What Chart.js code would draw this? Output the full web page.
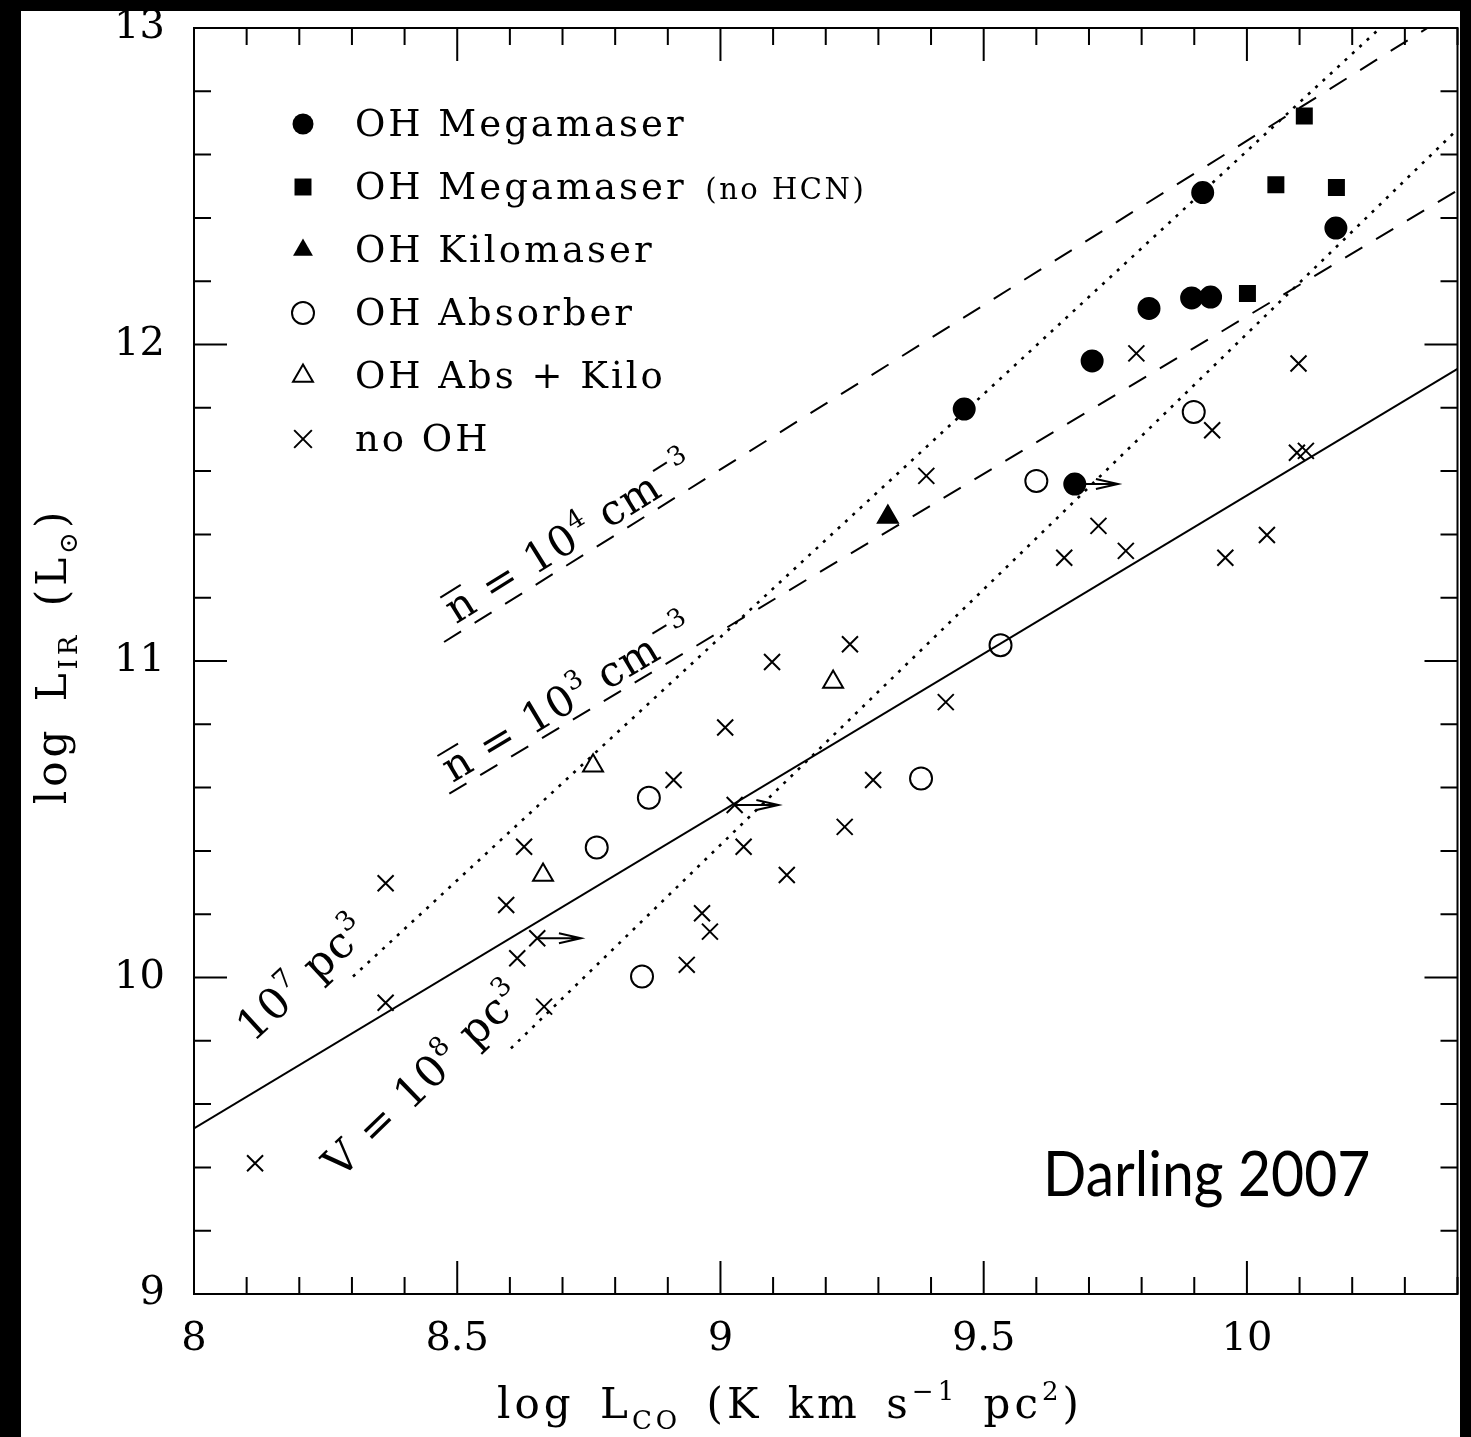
<!DOCTYPE html>
<html>
<head>
<meta charset="utf-8">
<script src="https://cdn.jsdelivr.net/npm/chart.js@4.4.0/dist/chart.umd.min.js"></script>
<style>
  html, body { margin: 0; padding: 0; background: #000; overflow: hidden; }
  #wrap { position: absolute; left: 0; top: 0; width: 1471px; height: 1437px; }
</style>
</head>
<body>
<div id="wrap"><canvas id="co" width="1471" height="1437"></canvas></div>
<script>
// Data (log L_CO, log L_IR)
const megaX = [9.463, 9.673, 9.706, 9.814, 9.895, 9.931, 9.916, 10.169];
const megaY = [11.796, 11.559, 11.948, 12.114, 12.147, 12.150, 12.480, 12.368];
const megaNoHcnX = [10.109, 10.055, 10.170, 10.001];
const megaNoHcnY = [12.722, 12.505, 12.496, 12.161];
const kiloX = [9.318];
const kiloY = [11.455];
const absX = [9.600, 9.899, 9.532, 9.381, 8.864, 8.765, 8.851];
const absY = [11.569, 11.787, 11.050, 10.629, 10.568, 10.411, 10.003];
const absKiloX = [9.214, 8.758, 8.663];
const absKiloY = [10.934, 10.669, 10.324];
const noOhX = [9.790, 10.098, 9.934, 9.391, 9.718, 9.653, 9.770, 9.959, 10.038, 10.095, 10.112,
               9.246, 9.098, 9.428, 9.009, 8.911, 9.290, 9.027, 9.236, 9.044, 9.126, 8.627,
               8.364, 8.593, 8.965, 8.980, 8.936, 8.614, 8.652, 8.665, 8.364, 8.116];
const noOhY = [11.972, 11.940, 11.729, 11.585, 11.427, 11.326, 11.348, 11.326, 11.398, 11.658, 11.664,
               11.053, 10.997, 10.870, 10.790, 10.624, 10.624, 10.545, 10.476, 10.413, 10.324, 10.413,
               10.298, 10.229, 10.203, 10.145, 10.040, 10.061, 10.124, 9.908, 9.920, 9.413];

// lower limits in L_CO (arrows pointing right)
const limitX = [9.673, 9.027, 8.652];
const limitY = [11.559, 10.545, 10.124];
const limitTipX = [9.755, 9.110, 8.735];

// model lines (end points)
const fitX = [8.0, 10.4];     const fitY = [9.523, 11.923];
const n4X = [8.475, 10.343];  const n4Y = [11.060, 13.0];
const n3X = [8.485, 10.4];    const n3Y = [10.581, 12.487];
const v7X = [8.302, 10.253];  const v7Y = [10.003, 13.0];
const v8X = [8.602, 10.4];    const v8Y = [9.776, 12.680];

// tick labels
const xTicks = [8, 8.5, 9, 9.5, 10];
const yTicks = [9, 10, 11, 12, 13];

const serifFam = '"DejaVu Serif", "Liberation Serif", serif';

function pts(xs, ys) { return xs.map((x, i) => ({ x: x, y: ys[i] })); }

function lineSet(xs, ys, dash, width) {
  return {
    label: '', data: pts(xs, ys), showLine: true, pointRadius: 0,
    borderColor: '#000', borderWidth: width || 2, borderDash: dash, fill: false
  };
}

function markSet(label, xs, ys, style, r, filled) {
  return {
    label: label, data: pts(xs, ys), pointStyle: style, pointRadius: r,
    pointBorderWidth: 2, borderColor: '#000',
    backgroundColor: filled ? '#000' : 'rgba(0,0,0,0)', filled: filled
  };
}

function drawMark(ctx, style, x, y, r, filled) {
  ctx.beginPath();
  if (style === 'circle') {
    ctx.arc(x, y, r, 0, Math.PI * 2);
  } else if (style === 'rect') {
    const s = r * Math.SQRT1_2;
    ctx.rect(x - s, y - s, 2 * s, 2 * s);
  } else if (style === 'triangle') {
    let a = 0;
    ctx.moveTo(x + Math.sin(a) * r, y - Math.cos(a) * r);
    a += Math.PI * 2 / 3;
    ctx.lineTo(x + Math.sin(a) * r, y - Math.cos(a) * r);
    a += Math.PI * 2 / 3;
    ctx.lineTo(x + Math.sin(a) * r, y - Math.cos(a) * r);
    ctx.closePath();
  } else if (style === 'crossRot') {
    const s = r * Math.SQRT1_2;
    ctx.moveTo(x - s, y - s); ctx.lineTo(x + s, y + s);
    ctx.moveTo(x + s, y - s); ctx.lineTo(x - s, y + s);
  }
  if (filled) ctx.fill(); else ctx.stroke();
}

// text with super/subscripts and overline
function drawRich(ctx, parts, x, y, ang, size, align) {
  ctx.save();
  ctx.translate(x, y);
  ctx.rotate(ang);
  ctx.textBaseline = 'alphabetic';
  ctx.textAlign = 'left';
  const sized = parts.map(p => {
    const fs = (p.sup || p.sub) ? size * 0.62 : size;
    ctx.font = fs + 'px ' + serifFam;
    return { p: p, fs: fs, w: ctx.measureText(p.t).width };
  });
  const total = sized.reduce((s, q) => s + q.w, 0);
  let cx = align === 'center' ? -total / 2 : 0;
  for (const q of sized) {
    ctx.font = q.fs + 'px ' + serifFam;
    const dy = q.p.sup ? -size * 0.42 : (q.p.sub ? size * 0.26 : 0);
    ctx.fillText(q.p.t, cx, dy);
    if (q.p.bar) {
      ctx.beginPath();
      ctx.moveTo(cx + 1, -size * 0.74);
      ctx.lineTo(cx + q.w - 3, -size * 0.74);
      ctx.stroke();
    }
    cx += q.w;
  }
  ctx.restore();
}

const decor = {
  id: 'decor',
  beforeDraw(c) {
    const ctx = c.ctx;
    ctx.save();
    ctx.fillStyle = '#000';
    ctx.fillRect(0, 0, c.width, c.height);
    ctx.fillStyle = '#fff';
    ctx.fillRect(21, 11, 1439, c.height - 11);
    ctx.restore();
  },
  afterDatasetsDraw(c) {
    const ctx = c.ctx, xs = c.scales.x, ys = c.scales.y, a = c.chartArea;
    const px = v => xs.getPixelForValue(v), py = v => ys.getPixelForValue(v);
    ctx.save();
    ctx.strokeStyle = '#000';
    ctx.fillStyle = '#000';
    ctx.lineWidth = 2;

    // arrows
    for (let i = 0; i < limitX.length; i++) {
      const x0 = px(limitX[i]), y0 = py(limitY[i]), x1 = px(limitTipX[i]);
      ctx.beginPath();
      ctx.moveTo(x0, y0); ctx.lineTo(x1, y0);
      ctx.moveTo(x1 - 22, y0 - 5); ctx.lineTo(x1, y0); ctx.lineTo(x1 - 22, y0 + 5);
      ctx.stroke();
    }

    // frame
    ctx.strokeRect(a.left, a.top, a.right - a.left, a.bottom - a.top);

    // inward ticks
    ctx.beginPath();
    for (let i = 0; i <= 24; i++) {
      const x = px(8 + i * 0.1), L = i % 5 === 0 ? 33 : 17;
      ctx.moveTo(x, a.bottom); ctx.lineTo(x, a.bottom - L);
      ctx.moveTo(x, a.top); ctx.lineTo(x, a.top + L);
    }
    for (let i = 0; i <= 20; i++) {
      const y = py(9 + i * 0.2), L = i % 5 === 0 ? 33 : 17;
      ctx.moveTo(a.left, y); ctx.lineTo(a.left + L, y);
      ctx.moveTo(a.right, y); ctx.lineTo(a.right - L, y);
    }
    ctx.stroke();

    // legend
    const legendSets = c.data.datasets.filter(d => d.label);
    legendSets.forEach((d, i) => {
      const y = 124 + i * 63;
      drawMark(ctx, d.pointStyle, 303, y, d.legendR || d.pointRadius, d.filled);
      ctx.textBaseline = 'alphabetic';
      ctx.textAlign = 'left';
      ctx.letterSpacing = '3px';
      ctx.font = '37px ' + serifFam;
      const cut = d.label.indexOf('(');
      const main = cut > 0 ? d.label.slice(0, cut) : d.label;
      ctx.fillText(main, 355, y + 12);
      if (cut > 0) {
        const w = ctx.measureText(main).width;
        ctx.letterSpacing = '2.5px';
        ctx.font = '29px ' + serifFam;
        ctx.fillText(d.label.slice(cut), 355 + w + 4, y + 12);
      }
      ctx.letterSpacing = '0px';
    });

    // labels along the model lines
    const angOf = (X, Y) => Math.atan2(py(Y[1]) - py(Y[0]), px(X[1]) - px(X[0]));
    ctx.lineWidth = 2;
    ctx.letterSpacing = '1px';
    drawRich(ctx, [{ t: 'n', bar: true }, { t: ' = 10' }, { t: '4', sup: true }, { t: ' cm' }, { t: '−3', sup: true }],
      px(8.4975), py(11.115), angOf(n4X, n4Y), 42);
    drawRich(ctx, [{ t: 'n', bar: true }, { t: ' = 10' }, { t: '3', sup: true }, { t: ' cm' }, { t: '−3', sup: true }],
      px(8.491), py(10.614), angOf(n3X, n3Y), 42);
    drawRich(ctx, [{ t: '10' }, { t: '7', sup: true }, { t: ' pc' }, { t: '3', sup: true }],
      px(8.112), py(9.792), angOf(v7X, v7Y), 43);
    drawRich(ctx, [{ t: 'V = 10' }, { t: '8', sup: true }, { t: ' pc' }, { t: '3', sup: true }],
      px(8.278), py(9.360), angOf(v8X, v8Y), 43);

    // axis titles
    ctx.letterSpacing = '4px';
    ctx.wordSpacing = '8px';
    drawRich(ctx, [{ t: 'log L' }, { t: 'CO', sub: true }, { t: ' (K km s' }, { t: '−1', sup: true },
      { t: ' pc' }, { t: '2', sup: true }, { t: ')' }], 790, 1418, 0, 42, 'center');
    drawRich(ctx, [{ t: 'log L' }, { t: 'IR', sub: true }, { t: ' (L' }, { t: '⊙', sub: true }, { t: ')' }],
      66, 656, -Math.PI / 2, 42, 'center');
    ctx.letterSpacing = '0px';
    ctx.wordSpacing = '0px';

    // credit
    ctx.save();
    ctx.translate(1043, 1196);
    ctx.scale(0.92, 1);
    ctx.font = '62px Lato, "Open Sans", sans-serif';
    ctx.textAlign = 'left';
    ctx.textBaseline = 'alphabetic';
    ctx.fillText('Darling 2007', 0, 0);
    ctx.restore();
    ctx.restore();
  },
  afterDraw(c) {
    const ctx = c.ctx;
    ctx.save();
    ctx.fillStyle = '#000';
    ctx.fillRect(1460, 0, c.width - 1460, c.height);
    ctx.fillRect(0, 0, c.width, 11);
    ctx.fillRect(0, 0, 21, c.height);
    ctx.restore();
  }
};

const tickFont = { family: serifFam, size: 40 };

new Chart(document.getElementById('co'), {
  type: 'scatter',
  data: {
    datasets: [
      markSet('OH Megamaser', megaX, megaY, 'circle', 10.5, true),
      Object.assign(markSet('OH Megamaser (no HCN)', megaNoHcnX, megaNoHcnY, 'rect', 10.6, true), { legendR: 12 }),
      markSet('OH Kilomaser', kiloX, kiloY, 'triangle', 11.5, true),
      markSet('OH Absorber', absX, absY, 'circle', 11, false),
      markSet('OH Abs + Kilo', absKiloX, absKiloY, 'triangle', 11.5, false),
      Object.assign(markSet('no OH', noOhX, noOhY, 'crossRot', 11.3, false), { legendR: 12.5 }),
      lineSet(fitX, fitY, []),
      lineSet(n4X, n4Y, [20, 16]),
      lineSet(n3X, n3Y, [20, 16]),
      lineSet(v7X, v7Y, [3, 7], 2.6),
      lineSet(v8X, v8Y, [3, 7], 2.6)
    ]
  },
  options: {
    responsive: false,
    animation: false,
    devicePixelRatio: 1,
    layout: { padding: { left: 0, right: 10, top: 28, bottom: 0 } },
    plugins: { legend: { display: false }, tooltip: { enabled: false } },
    scales: {
      x: {
        type: 'linear', min: 8, max: 10.4,
        grid: { display: false, drawTicks: false },
        border: { display: false },
        afterBuildTicks: s => { s.ticks = xTicks.map(v => ({ value: v })); },
        afterFit: s => { s.height = 143; s.paddingLeft = 0; s.paddingRight = 0; },
        ticks: { font: tickFont, color: '#000', padding: 22, maxRotation: 0, autoSkip: false,
                 callback: v => String(v) }
      },
      y: {
        type: 'linear', min: 9, max: 13,
        grid: { display: false, drawTicks: false },
        border: { display: false },
        afterBuildTicks: s => { s.ticks = yTicks.map(v => ({ value: v })); },
        afterFit: s => { s.width = 194; s.paddingTop = 0; s.paddingBottom = 0; },
        ticks: { font: tickFont, color: '#000', padding: 29, autoSkip: false,
                 callback: v => String(v) }
      }
    }
  },
  plugins: [decor]
});
</script>
</body>
</html>
